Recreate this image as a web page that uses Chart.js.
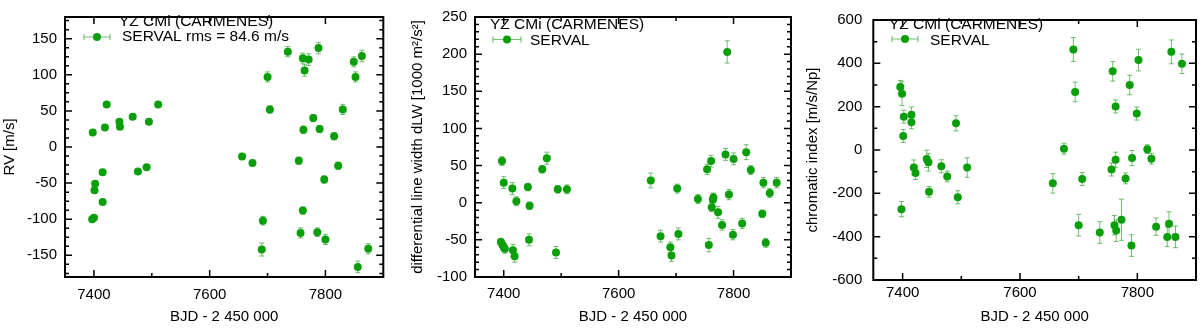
<!DOCTYPE html>
<html>
<head>
<meta charset="utf-8">
<script src="https://cdn.jsdelivr.net/npm/chart.js@4"></script>
<style>
  html, body { margin: 0; padding: 0; background: #fff; }
  #wrap { position: relative; width: 1200px; height: 328px; }
  #wrap canvas { position: absolute; top: 0; }
</style>
</head>
<body>
<div id="wrap">
  <canvas id="rvChart" width="390" height="328" style="left:0"></canvas>
  <canvas id="dlwChart" width="400" height="328" style="left:400px"></canvas>
  <canvas id="crxChart" width="400" height="328" style="left:800px"></canvas>
</div>
<script>
// Panel 1: radial velocity
const rvBjd = [7397, 7398, 7400, 7401, 7402, 7415, 7415, 7419, 7422, 7444, 7445, 7467, 7476, 7491, 7495, 7511,
  7656, 7674, 7690, 7692, 7700, 7704, 7735, 7754, 7757, 7761, 7761, 7762, 7764, 7771, 7779, 7786, 7788, 7790,
  7798, 7800, 7815, 7822, 7830, 7849, 7852, 7856, 7863, 7874];
const rvVal = [-100, 20, -98, -60, -51, -35, -76, 27, 59, 35, 28, 42, -34, -28, 35, 59,
  -13, -22, -142, -102, 97, 52, 132, -19, -119, -88, 123, 24, 106, 121, 40, -118, 137, 25,
  -45, -128, 15, -26, 52, 118, 97, -166, 126, -141];
const rvErr = [3, 3, 3, 3, 3, 3, 3, 3, 3, 3, 3, 3, 3, 3, 3, 3,
  4, 4, 9, 6, 7, 5, 7, 5, 7, 5, 7, 5, 8, 8, 5, 6, 8, 5,
  5, 7, 5, 5, 7, 7, 7, 8, 8, 7];

// Panel 2: differential line width
const dlwBjd = [7395, 7397, 7398, 7400, 7400, 7402, 7415, 7416, 7419, 7422, 7442, 7444, 7445, 7467, 7475, 7491,
  7494, 7510, 7656, 7673, 7690, 7692, 7702, 7704, 7738, 7754, 7757, 7761, 7762, 7764, 7765, 7773, 7780,
  7786, 7789, 7792, 7799, 7800, 7815, 7822, 7830, 7850, 7852, 7856, 7863, 7875];
const dlwVal = [-53, 56, -57, 27, -60, -62, 19, -64, -72, 2, 21, -50, -4, 45, 60, -67,
  18, 18, 30, -45, -60, -71, 19, -42, 5, 45, -57, 56, -6, 4, 7, -13, -30,
  65, 203, 11, -43, 59, -28, 68, 44, -15, 27, -54, 13, 27];
const dlwErr = [5, 6, 5, 8, 6, 6, 8, 8, 8, 6, 5, 8, 5, 5, 8, 8,
  5, 6, 10, 8, 7, 8, 6, 8, 6, 7, 9, 8, 6, 8, 6, 8, 7,
  8, 15, 7, 7, 8, 7, 10, 6, 5, 7, 6, 6, 7];

// Panel 3: chromatic index
const crxBjd = [7396, 7398, 7399, 7401, 7402, 7415, 7415, 7419, 7422, 7441, 7444, 7445, 7466, 7476, 7491, 7494,
  7510, 7656, 7675, 7691, 7694, 7700, 7706, 7736, 7756, 7758, 7761, 7763, 7763, 7764, 7773, 7780, 7787,
  7790, 7791, 7799, 7802, 7817, 7824, 7832, 7851, 7854, 7858, 7865, 7876];
const crxVal = [291, -273, 260, 65, 154, 163, 128, -81, -106, -41, -57, -193, -75, -122, 123, -218,
  -81, -154, 6, 464, 268, -347, -134, -381, -90, 363, -347, 201, -45, -372, -322, -131, 300,
  -441, -37, 168, 415, 4, -40, -354, -401, -340, 453, -401, 398];
const crxErr = [30, 35, 55, 30, 30, 35, 30, 35, 30, 40, 40, 25, 30, 25, 35, 30,
  45, 45, 25, 55, 45, 50, 30, 50, 30, 45, 45, 30, 35, 50, 95, 25, 45,
  50, 35, 30, 50, 20, 25, 40, 45, 55, 55, 50, 45];

const bjdTicks = [7400, 7600, 7800];
const rvTicks = [-150, -100, -50, 0, 50, 100, 150];
const dlwTicks = [-100, -50, 0, 50, 100, 150, 200, 250];
const crxTicks = [-600, -400, -200, 0, 200, 400, 600];

const green = '#0a9f0a';
const barGreen = 'rgba(20, 150, 20, 0.6)';
const fontFamily = '"Liberation Sans", Arial, sans-serif';
Chart.defaults.font.family = fontFamily;
const tickFont = { size: 15, family: fontFamily };

// error bars under the markers
const errorBars = {
  id: 'errorBars',
  beforeDatasetsDraw(chart) {
    const { ctx, scales: { x, y } } = chart;
    ctx.save();
    ctx.strokeStyle = barGreen;
    ctx.lineWidth = 1;
    chart.data.datasets[0].data.forEach(p => {
      const px = x.getPixelForValue(p.x);
      const y1 = y.getPixelForValue(p.y - p.err);
      const y2 = y.getPixelForValue(p.y + p.err);
      ctx.beginPath();
      ctx.moveTo(px, y1); ctx.lineTo(px, y2);
      ctx.moveTo(px - 2.5, y1); ctx.lineTo(px + 2.5, y1);
      ctx.moveTo(px - 2.5, y2); ctx.lineTo(px + 2.5, y2);
      ctx.stroke();
    });
    ctx.restore();
  }
};

// gnuplot style box with inward ticks on all sides
const frameTicks = {
  id: 'frameTicks',
  afterDraw(chart, args, opts) {
    const { ctx, chartArea: a, scales: { x, y } } = chart;
    ctx.save();
    ctx.strokeStyle = '#000';
    ctx.lineWidth = 1.5;
    const marks = (scale, minor, major, horizontal) => {
      const start = Math.ceil(scale.min / minor - 1e-9) * minor;
      for (let v = start; v <= scale.max + 1e-9; v += minor) {
        const isMajor = Math.abs(v / major - Math.round(v / major)) < 1e-6;
        const len = isMajor ? 7 : 4;
        const p = scale.getPixelForValue(v);
        ctx.beginPath();
        if (horizontal) {
          ctx.moveTo(p, a.bottom); ctx.lineTo(p, a.bottom - len);
          ctx.moveTo(p, a.top); ctx.lineTo(p, a.top + len);
        } else {
          ctx.moveTo(a.left, p); ctx.lineTo(a.left + len, p);
          ctx.moveTo(a.right, p); ctx.lineTo(a.right - len, p);
        }
        ctx.stroke();
      }
    };
    marks(x, opts.xMinor, opts.xMajor, true);
    marks(y, opts.yMinor, opts.yMajor, false);
    ctx.lineWidth = 2;
    ctx.strokeRect(a.left, a.top, a.width, a.height);
    ctx.restore();
  }
};

// key in the upper left corner
const keyBox = {
  id: 'keyBox',
  afterDraw(chart, args, o) {
    const ctx = chart.ctx;
    ctx.save();
    ctx.font = '15.5px ' + fontFamily;
    ctx.fillStyle = '#000';
    ctx.textBaseline = 'alphabetic';
    ctx.fillText(o.title, o.titleX, o.titleY);
    ctx.fillText(o.label, o.labelX, o.labelY);
    ctx.strokeStyle = barGreen;
    ctx.lineWidth = 1.2;
    ctx.beginPath();
    ctx.moveTo(o.symX1, o.symY); ctx.lineTo(o.symX2, o.symY);
    ctx.moveTo(o.symX1, o.symY - 3); ctx.lineTo(o.symX1, o.symY + 3);
    ctx.moveTo(o.symX2, o.symY - 3); ctx.lineTo(o.symX2, o.symY + 3);
    ctx.stroke();
    ctx.fillStyle = green;
    ctx.beginPath();
    ctx.arc((o.symX1 + o.symX2) / 2, o.symY, 4, 0, 2 * Math.PI);
    ctx.fill();
    ctx.restore();
  }
};

function makePanel(id, bjd, vals, errs, yTicks, cfg) {
  new Chart(document.getElementById(id), {
    type: 'scatter',
    data: {
      datasets: [{
        data: bjd.map((b, i) => ({ x: b, y: vals[i], err: errs[i] })),
        backgroundColor: green,
        borderWidth: 0,
        pointRadius: 4,
        pointHoverRadius: 4
      }]
    },
    options: {
      responsive: false,
      animation: false,
      events: [],
      layout: { padding: { top: cfg.top, right: cfg.right, left: 0, bottom: 0 } },
      plugins: {
        legend: { display: false },
        tooltip: { enabled: false },
        frameTicks: { xMajor: 200, xMinor: 100, yMajor: cfg.yMajor, yMinor: cfg.yMinor },
        keyBox: cfg.key
      },
      scales: {
        x: {
          type: 'linear',
          min: 7350,
          max: 7900,
          afterBuildTicks: s => { s.ticks = bjdTicks.map(v => ({ value: v })); },
          afterFit: s => { s.height = cfg.xAxisH; },
          grid: { display: false, drawTicks: false },
          border: { display: false },
          ticks: { color: '#000', font: tickFont, padding: cfg.xPad, maxRotation: 0, autoSkip: false, callback: v => String(v) },
          title: { display: true, text: 'BJD - 2 450 000', color: '#000', font: tickFont, padding: { top: 0, bottom: 2 } }
        },
        y: {
          type: 'linear',
          min: cfg.yMin,
          max: cfg.yMax,
          afterBuildTicks: s => { s.ticks = yTicks.map(v => ({ value: v })); },
          afterFit: s => { s.width = cfg.yAxisW; },
          grid: { display: false, drawTicks: false },
          border: { display: false },
          ticks: { color: '#000', font: tickFont, padding: cfg.yPad, autoSkip: false, callback: v => String(v) },
          title: { display: true, text: cfg.yTitle, color: '#000', font: tickFont, padding: { top: cfg.yTitlePad, bottom: 0 } }
        }
      }
    },
    plugins: [errorBars, frameTicks, keyBox]
  });
}

makePanel('rvChart', rvBjd, rvVal, rvErr, rvTicks, {
  top: 4.7, right: 6.7, xAxisH: 51, yAxisW: 65, xPad: 9, yPad: 8, yTitlePad: 1,
  yMin: -180, yMax: 180, yMajor: 50, yMinor: 12.5, yTitle: 'RV [m/s]',
  key: { title: 'YZ CMi (CARMENES)', titleX: 119, titleY: 26, label: 'SERVAL rms = 84.6 m/s', labelX: 122, labelY: 40.5,
    symX1: 84, symX2: 110, symY: 37 }
});

makePanel('dlwChart', dlwBjd, dlwVal, dlwErr, dlwTicks, {
  top: 8.5, right: 9, xAxisH: 51, yAxisW: 75, xPad: 8, yPad: 8, yTitlePad: 9,
  yMin: -100, yMax: 250, yMajor: 50, yMinor: 10, yTitle: 'differential line width dLW [1000 m²/s²]',
  key: { title: 'YZ CMi (CARMENES)', titleX: 90, titleY: 29, label: 'SERVAL', labelX: 130, labelY: 45,
    symX1: 93, symX2: 121, symY: 39.5 }
});

makePanel('crxChart', crxBjd, crxVal, crxErr, crxTicks, {
  top: 8.3, right: 3.5, xAxisH: 48, yAxisW: 73.3, xPad: 4, yPad: 11, yTitlePad: 4,
  yMin: -600, yMax: 600, yMajor: 200, yMinor: 100, yTitle: 'chromatic index [m/s/Np]',
  key: { title: 'YZ CMi (CARMENES)', titleX: 89, titleY: 29, label: 'SERVAL', labelX: 130, labelY: 45,
    symX1: 92, symX2: 118, symY: 39 }
});
</script>
</body>
</html>
